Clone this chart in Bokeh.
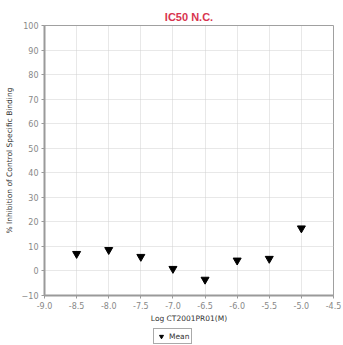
from bokeh.plotting import figure
from bokeh.layouts import column
from bokeh.models import Legend, LegendItem, FixedTicker, ColumnDataSource
from bokeh.embed import file_html
from bokeh.resources import INLINE

log_conc = [-8.5, -8.0, -7.5, -7.0, -6.5, -6.0, -5.5, -5.0]
mean_inhibition = [7.0, 8.6, 5.8, 0.9, -3.5, 4.3, 5.0, 17.4]
x_ticks = [-9.0, -8.5, -8.0, -7.5, -7.0, -6.5, -6.0, -5.5, -5.0, -4.5]
y_ticks = [-10, 0, 10, 20, 30, 40, 50, 60, 70, 80, 90, 100]

src = ColumnDataSource(dict(x=log_conc, y=mean_inhibition))

p = figure(width=343, height=325, output_backend="svg", toolbar_location=None,
           x_range=(-9.0, -4.5), y_range=(-10, 100),
           min_border_left=44, min_border_right=10, min_border_top=25, min_border_bottom=28,
           background_fill_color="white", border_fill_color="white")

p.title.text = "IC50 N.C."
p.title.text_color = "#d8344f"
p.title.text_font = "Liberation Sans"
p.title.text_font_size = "11px"
p.title.text_font_style = "bold"
p.title.align = "center"
p.title.offset = 0
p.title.standoff = 6

p.outline_line_color = "#a0a0a0"
p.outline_line_width = 1

for ax in (p.xaxis[0], p.yaxis[0]):
    ax.axis_line_color = "#9a9a9a"
    ax.axis_line_width = 2
    ax.major_tick_line_color = "#9a9a9a"
    ax.minor_tick_line_color = None
    ax.major_tick_in = 0
    ax.major_tick_out = 3
    ax.major_label_text_color = "#888888"
    ax.major_label_text_font = "DejaVu Sans"
    ax.major_label_text_font_size = "8px"
    ax.axis_label_text_color = "#333333"
    ax.axis_label_text_font = "DejaVu Sans"
    ax.axis_label_text_font_style = "normal"
    ax.axis_label_text_font_size = "7.5px"

p.xaxis.ticker = FixedTicker(ticks=x_ticks)
p.yaxis.ticker = FixedTicker(ticks=y_ticks)
p.xaxis.major_label_overrides = {t: f"{t:.1f}" for t in x_ticks}
p.xaxis.axis_label = "Log CT2001PR01(M)"
p.yaxis.axis_label = "% Inhibition of Control Specific Binding"
p.xaxis.major_label_standoff = 3
p.yaxis.major_label_standoff = 3
p.xaxis.axis_label_standoff = 2
p.yaxis.axis_label_standoff = 5

p.xgrid.grid_line_color = "#d0d0d0"
p.ygrid.grid_line_color = "#d0d0d0"
p.xgrid.grid_line_dash = "1 1"
p.ygrid.grid_line_dash = "1 1"

p.scatter("x", "y", source=src, marker="inverted_triangle", size=8,
          fill_color="black", line_color="black")

# legend strip below the chart (proxy renderer uses same data, out of view)
lg = figure(width=343, height=20, output_backend="svg", toolbar_location=None,
            x_range=(0, 1), y_range=(0, 1),
            min_border_left=0, min_border_right=0, min_border_top=0, min_border_bottom=0,
            background_fill_color="white", border_fill_color="white")
lg.axis.visible = False
lg.grid.visible = False
lg.outline_line_color = None
proxy = lg.scatter("x", "y", source=src, marker="inverted_triangle", size=8,
                   fill_color="black", line_color="black")
legend = Legend(items=[LegendItem(label="Mean", renderers=[proxy])],
                orientation="horizontal", location=(109, 1),
                border_line_color="#555555", border_line_width=1,
                background_fill_color="white", background_fill_alpha=1,
                label_text_font="DejaVu Sans", label_text_font_size="7.5px",
                label_text_color="#333333", glyph_width=10, glyph_height=10,
                label_standoff=3, padding=2, spacing=0, margin=0,
                label_height=10)
lg.add_layout(legend, "center")

layout = column(p, lg, spacing=0)
open("out.html", "w").write(file_html(layout, INLINE))
